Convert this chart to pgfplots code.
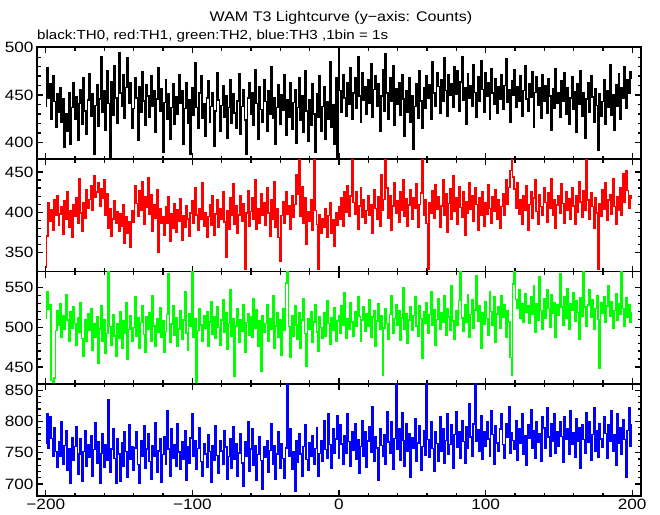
\documentclass[border=0pt]{standalone}
\usepackage{pgfplots}
\usepackage{pgfplotstable}
\pgfplotsset{compat=1.18}
\usepackage{fontspec}
\setmainfont{Liberation Sans}[FakeStretch=1.15]
\definecolor{pgreen}{RGB}{0,255,0}
\definecolor{pred}{RGB}{255,0,0}
\definecolor{pblue}{RGB}{0,0,255}

\pgfplotstableread{
t a b c d
-200 438 332 512 765
-199 479 371 545 812
-198 447 412 523 758
-197 462 389 528 808
-196 425 403 433 773
-195 470 378 431 744
-194 443 415 436 790
-193 416 396 496 752
-192 451 421 521 727
-191 432 384 503 768
-190 458 398 530 745
-189 421 407 488 799
-188 446 373 515 731
-187 395 414 497 762
-186 430 392 541 785
-185 412 426 509 722
-184 452 381 483 756
-183 398 402 520 701
-182 437 369 499 774
-181 463 410 526 738
-180 425 395 505 760
-179 448 418 478 791
-178 402 386 512 716
-177 441 441 494 748
-176 456 399 531 773
-175 419 377 486 705
-174 468 412 463 752
-173 433 393 509 786
-172 409 428 482 729
-171 445 405 517 763
-170 472 416 496 743
-169 428 433 523 777
-168 451 402 471 712
-167 388 445 505 755
-166 439 419 488 798
-165 461 425 514 734
-164 417 437 455 768
-163 446 408 498 702
-162 490 429 527 749
-161 432 417 483 781
-160 455 440 509 727
-159 413 396 467 763
-158 476 423 492 738
-157 441 380 571 835
-156 385 405 501 719
-155 464 371 478 756
-154 429 392 516 789
-153 481 414 489 741
-152 447 386 463 701
-151 420 401 504 772
-150 495 376 486 748
-149 452 398 520 705
-148 438 383 474 766
-147 471 409 508 729
-146 426 362 493 784
-145 458 395 531 752
-144 489 374 460 711
-143 441 388 497 795
-142 463 357 515 739
-141 415 402 482 760
-140 436 388 500 722
-139 468 433 538 758
-138 447 411 489 784
-137 402 395 512 731
-136 459 427 473 702
-135 432 402 506 769
-134 475 438 527 744
-133 444 385 491 793
-132 418 419 468 725
-131 461 406 514 756
-130 449 443 497 781
-129 427 398 519 736
-128 470 422 483 708
-127 438 377 540 762
-126 455 410 502 745
-125 411 393 476 798
-124 446 428 511 719
-123 479 351 494 753
-122 433 404 525 772
-121 457 386 487 703
-120 390 395 508 747
-119 442 372 469 775
-118 466 407 495 731
-117 425 386 516 818
-116 451 419 568 756
-115 404 364 481 712
-114 437 398 504 789
-113 462 380 527 742
-112 419 411 490 763
-111 448 375 512 728
-110 430 403 476 797
-109 471 389 498 751
-108 441 417 521 723
-107 455 366 485 768
-106 398 396 509 740
-105 436 381 545 786
-104 463 408 493 706
-103 420 392 471 759
-102 445 371 517 733
-101 388 399 502 774
-100 458 414 571 812
-99 429 386 488 745
-98 484 430 511 769
-97 437 397 430 724
-96 415 378 496 757
-95 452 405 524 790
-94 470 391 503 736
-93 426 437 482 712
-92 441 383 515 765
-91 407 400 499 748
-90 447 369 520 727
-89 465 395 476 779
-88 421 410 507 752
-87 438 384 532 703
-86 452 421 491 761
-85 396 372 513 738
-84 433 398 486 794
-83 474 415 526 746
-82 445 381 500 718
-81 412 405 478 770
-80 439 392 509 753
-79 460 426 535 731
-78 427 388 494 786
-77 449 345 518 759
-76 405 402 472 707
-75 437 379 505 744
-74 466 418 548 772
-73 420 396 489 725
-72 451 436 511 792
-71 431 385 438 740
-70 415 408 502 764
-69 444 374 523 712
-68 472 397 481 750
-67 409 420 510 781
-66 438 389 495 734
-65 456 411 529 697
-64 424 330 469 768
-63 388 399 506 745
-62 447 427 517 799
-61 463 383 490 721
-60 430 401 513 756
-59 452 418 487 788
-58 418 392 536 730
-57 477 440 499 762
-56 441 379 522 706
-55 403 405 476 747
-54 459 386 508 775
-53 435 423 445 738
-52 421 397 515 692
-51 466 412 494 759
-50 443 384 505 743
-49 412 430 528 770
-48 455 399 483 719
-47 430 371 511 754
-46 480 415 497 796
-45 426 392 540 732
-44 447 438 473 761
-43 398 381 502 707
-42 437 404 519 748
-41 461 369 488 783
-40 419 340 510 726
-39 450 396 465 765
-38 434 413 524 741
-37 471 387 496 710
-36 408 425 556 758
-35 445 398 571 860
-34 427 408 501 744
-33 463 379 462 788
-32 414 420 515 723
-31 442 394 489 752
-30 456 410 527 689
-29 399 447 503 769
-28 437 423 485 735
-27 468 466 518 781
-26 424 395 474 748
-25 449 432 509 713
-24 411 386 536 760
-23 476 418 492 795
-22 433 360 451 739
-21 401 401 511 722
-20 445 389 498 766
-19 418 415 520 745
-18 462 378 481 778
-17 430 466 507 731
-16 390 402 529 757
-15 451 385 494 790
-14 427 329 470 712
-13 470 397 513 749
-12 412 374 500 769
-11 438 392 486 736
-10 459 381 518 802
-9 404 405 489 755
-8 443 369 534 741
-7 425 396 505 813
-6 485 412 479 763
-5 416 374 512 726
-4 440 391 496 788
-3 398 358 525 750
-2 468 399 483 772
-1 384 384 508 809
0 498 407 515 741
1 455 392 492 795
2 432 418 527 764
3 471 383 503 732
4 447 426 544 777
5 428 400 486 750
6 463 433 511 812
7 440 395 498 768
8 479 420 531 729
9 425 466 507 784
10 452 412 489 754
11 468 398 520 796
12 436 425 502 739
13 490 379 538 771
14 449 408 514 718
15 421 431 483 760
16 474 394 509 802
17 445 415 526 745
18 459 387 495 783
19 430 402 517 727
20 466 421 502 769
21 441 396 535 791
22 483 410 488 751
23 427 374 513 823
24 456 428 521 737
25 470 405 476 775
26 438 391 508 758
27 462 419 530 706
28 412 383 497 788
29 449 446 515 762
30 477 402 440 744
31 433 416 499 779
32 494 466 524 731
33 452 430 505 815
34 425 393 485 767
35 468 420 516 749
36 444 378 540 800
37 481 408 493 724
38 418 437 511 773
39 457 399 528 860
40 440 414 503 756
41 463 388 521 789
42 429 426 484 738
43 471 402 512 814
44 446 440 550 770
45 407 395 498 729
46 455 417 517 796
47 432 383 480 752
48 468 409 509 781
49 421 428 526 711
50 449 392 496 774
51 393 418 515 758
52 438 405 538 805
53 462 436 502 737
54 426 381 489 766
55 476 410 527 793
56 444 424 511 722
57 415 466 461 760
58 458 397 520 785
59 436 415 505 746
60 470 386 531 860
61 447 330 492 771
62 461 412 516 743
63 425 399 545 799
64 485 427 503 757
65 452 393 522 720
66 438 434 478 783
67 474 404 510 765
68 459 419 536 737
69 431 382 498 808
70 466 408 519 752
71 443 440 507 789
72 489 396 540 734
73 455 423 490 770
74 428 375 524 812
75 471 411 513 748
76 450 429 496 763
77 462 392 552 795
78 437 445 508 726
79 480 401 485 779
80 451 418 521 816
81 476 385 503 759
82 433 432 534 784
83 464 406 571 742
84 490 394 512 801
85 445 426 495 768
86 458 372 529 733
87 419 413 506 791
88 472 399 541 757
89 447 437 488 829
90 460 404 516 775
91 438 421 535 744
92 482 389 499 796
93 453 430 522 860
94 427 410 565 768
95 469 378 508 787
96 444 418 527 752
97 486 396 473 809
98 456 425 518 739
99 432 383 504 783
100 474 412 532 761
101 449 398 511 800
102 463 434 490 772
103 425 405 545 745
104 478 386 520 818
105 452 419 503 779
106 440 401 538 731
107 467 428 481 794
108 431 392 517 766
109 459 415 526 752
110 446 380 499 788
111 471 407 540 812
112 435 423 513 763
113 460 396 529 741
114 488 440 488 797
115 442 410 521 775
116 456 431 507 824
117 421 452 462 749
118 465 466 440 782
119 450 444 555 770
120 477 429 571 756
121 437 405 535 801
122 459 437 524 738
123 443 398 548 789
124 470 415 512 766
125 428 385 530 812
126 455 421 506 747
127 481 402 543 777
128 446 433 519 730
129 433 378 527 795
130 462 410 505 773
131 448 426 538 819
132 475 393 516 758
133 416 418 552 786
134 453 440 494 742
135 469 401 530 800
136 439 385 509 767
137 458 422 564 781
138 426 407 521 736
139 471 396 498 808
140 444 431 536 790
141 460 412 512 757
142 431 388 547 822
143 467 424 524 775
144 449 405 500 745
145 413 442 541 797
146 457 396 518 769
147 436 415 531 812
148 478 380 487 750
149 441 409 528 783
150 452 420 515 760
151 427 399 568 799
152 465 436 526 776
153 443 411 503 735
154 474 387 539 808
155 430 426 512 771
156 458 403 549 789
157 419 417 497 747
158 447 392 530 818
159 469 431 521 763
160 435 408 544 782
161 454 385 508 743
162 411 421 533 805
163 462 400 519 768
164 440 438 485 790
165 476 413 537 726
166 428 394 514 795
167 452 427 571 771
168 405 402 526 749
169 446 466 502 814
170 463 415 528 767
171 432 391 547 800
172 470 424 513 738
173 448 407 535 779
174 421 380 498 822
175 457 418 524 752
176 439 399 540 786
177 392 330 510 743
178 451 411 449 797
179 428 395 531 772
180 443 428 518 759
181 466 404 539 808
182 419 437 506 781
183 455 390 527 741
184 437 415 552 795
185 482 422 514 768
186 429 398 532 817
187 450 441 499 753
188 413 407 521 779
189 461 385 543 730
190 438 419 509 812
191 472 403 530 766
192 425 431 516 790
193 458 396 571 748
194 447 448 524 803
195 480 412 502 771
196 436 451 537 711
197 466 427 513 786
198 452 405 528 822
199 475 420 506 760
200 468 418 518 795
}\lc

\pgfplotsset{
  panel/.style={
    anchor=north west, width=604bp, height=112.25bp, scale only axis,
    xmin=-206, xmax=206, xtick={-200,-100,0,100,200}, minor x tick num=4,
    minor y tick num=4, tick align=inside,
    major tick length=6bp, minor tick length=3.5bp,
    axis line style={line width=1.6bp},
    every tick/.append style={line width=1.3bp, black},
    xticklabels={},
    yticklabel style={font=\fontsize{15}{17}\selectfont},
    xticklabel style={font=\fontsize{15}{17}\selectfont},
    /pgf/number format/assume math mode=true,
    /pgf/number format/1000 sep={},
  },
  series/.style={const plot mark mid, draw=#1, line width=1.5bp, line join=miter, mark=none}
}

\begin{document}
\begin{tikzpicture}
\useasboundingbox (-37bp,47bp) rectangle (623bp,-468bp);
\node[anchor=base, font=\fontsize{14}{16}\selectfont] at (304bp,26bp) {WAM T3 Lightcurve (y−axis: Counts)};
\node[anchor=base west, inner sep=0pt, font=\fontsize{13.2}{15}\selectfont] at (0bp,8bp) {black:TH0, red:TH1, green:TH2, blue:TH3 ,1bin = 1s};

\begin{axis}[panel, at={(0bp,0bp)}, ymin=382.4, ymax=500.7, ytick={400,450,500}]
\addplot[series=black] table[x=t,y=a]{\lc};
\end{axis}

\begin{axis}[panel, at={(0bp,-112.25bp)}, ymin=326.8, ymax=465.7, ytick={350,400,450}]
\addplot[series=pred] table[x=t,y=b]{\lc};
\end{axis}

\begin{axis}[panel, at={(0bp,-224.5bp)}, ymin=428.8, ymax=570.5, ytick={450,500,550}]
\addplot[series=pgreen] table[x=t,y=c]{\lc};
\end{axis}

\begin{axis}[panel, at={(0bp,-336.75bp)}, ymin=680.9, ymax=860.4, ytick={700,750,800,850},
  xticklabels={−200,−100,0,100,200}]
\addplot[series=pblue] table[x=t,y=d]{\lc};
\end{axis}
\end{tikzpicture}
\end{document}
